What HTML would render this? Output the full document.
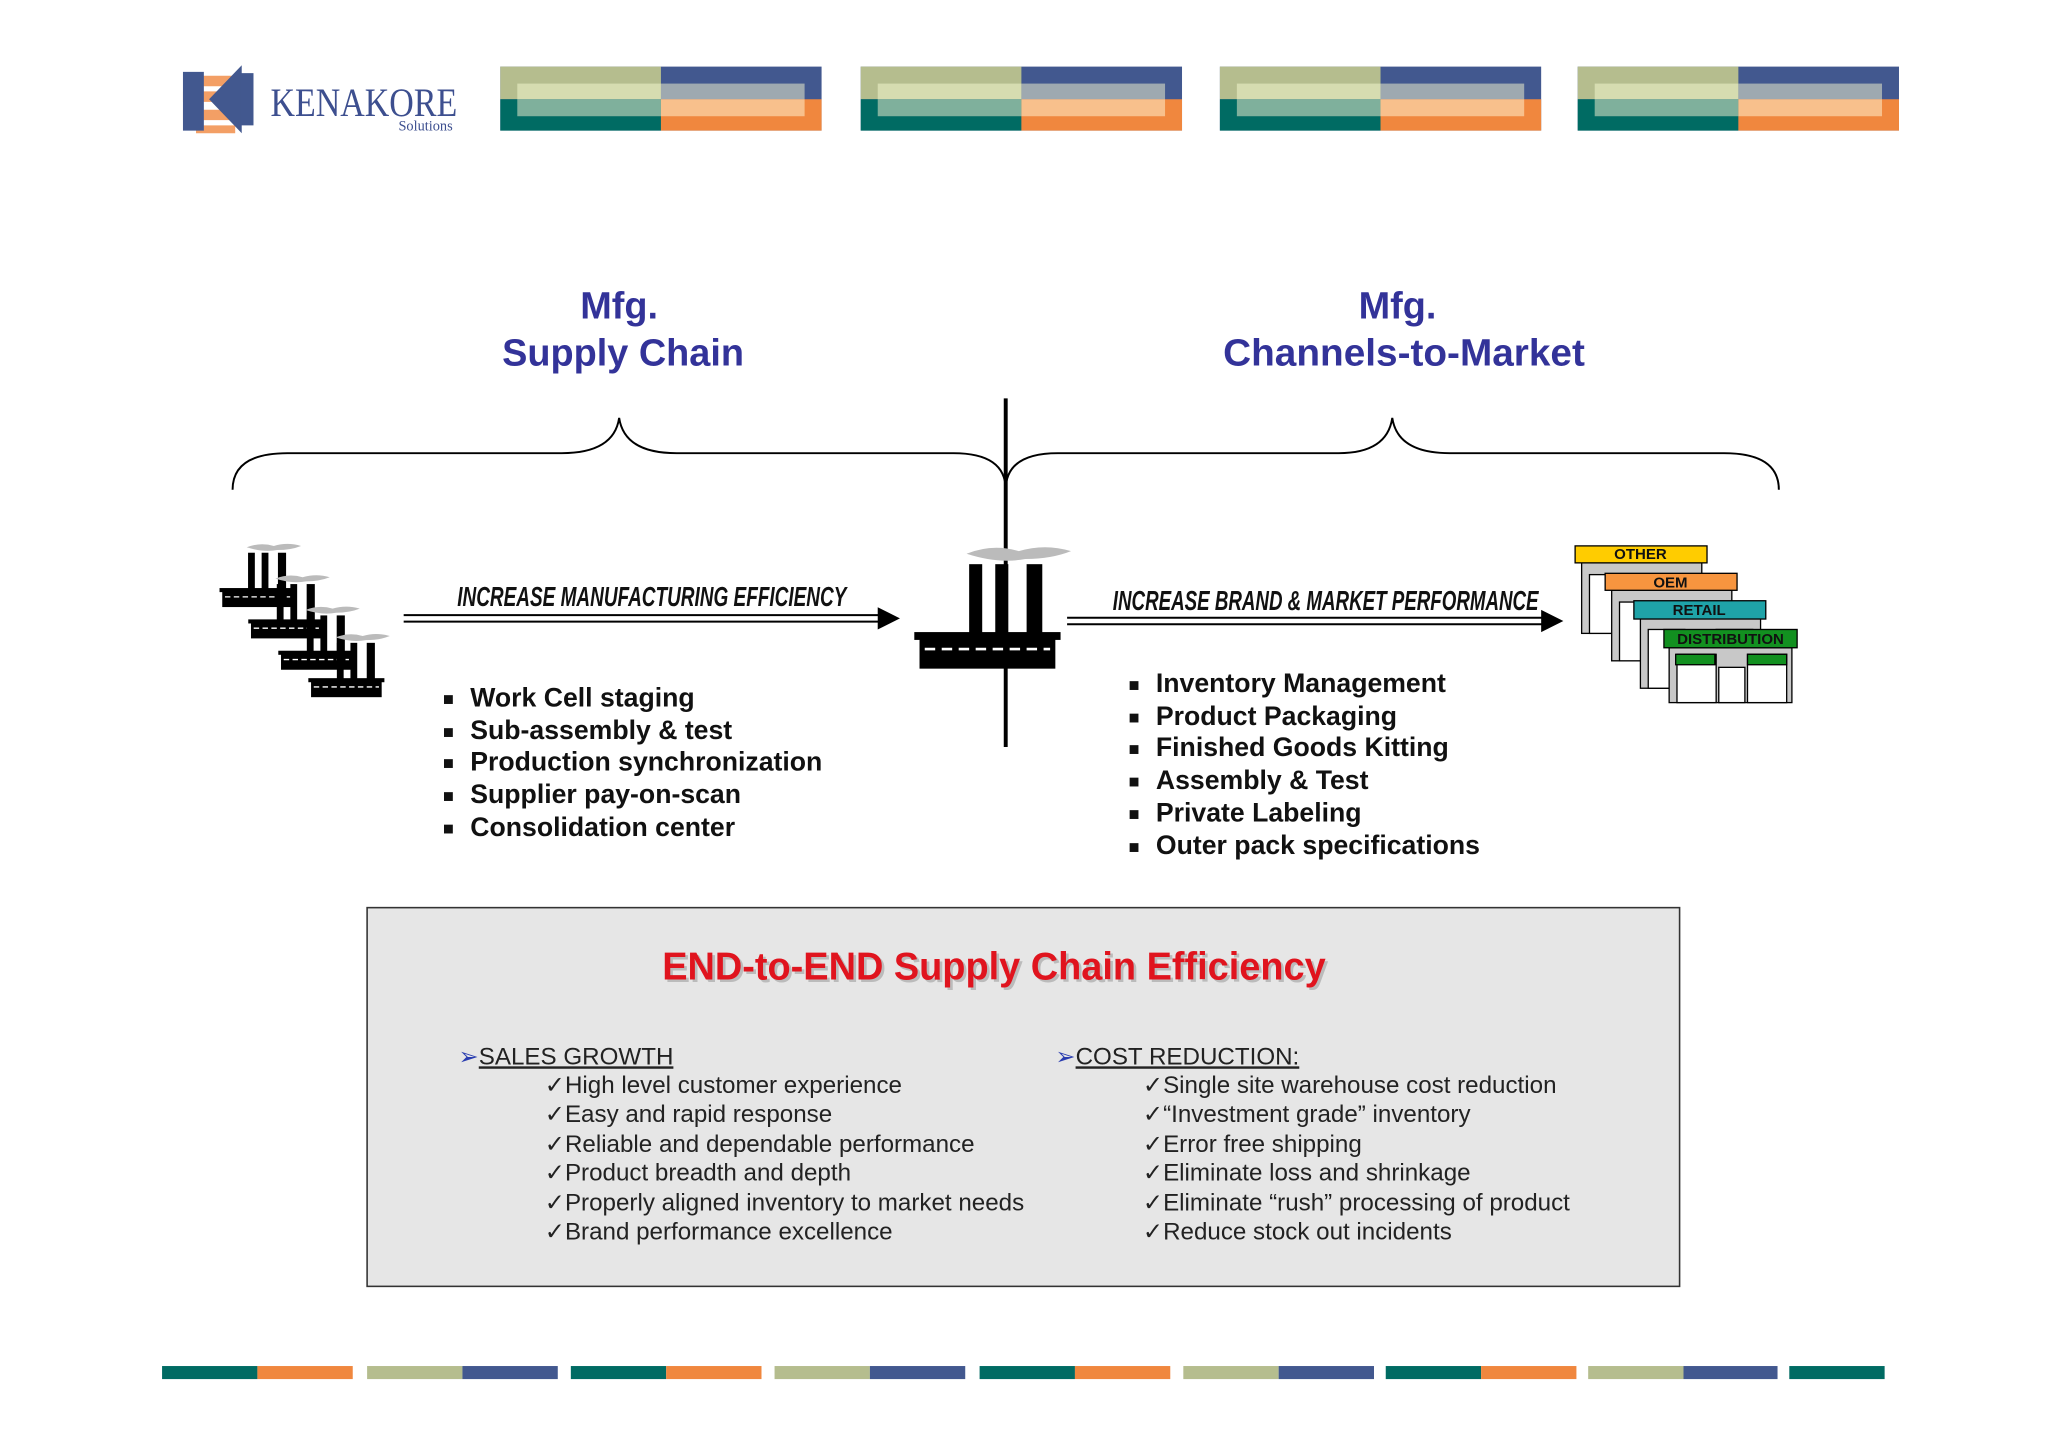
<!DOCTYPE html>
<html><head><meta charset="utf-8"><style>
html,body{margin:0;padding:0;background:#fff}
svg{display:block}
</style></head><body>
<svg width="2048" height="1447" viewBox="0 0 1568 1108" xmlns="http://www.w3.org/2000/svg" font-family="'Liberation Sans', sans-serif">
<defs>
<g id="fac">
  <path d="M40,4 q20,-8 40,-2 q20,-6 40,0 q-15,6 -35,6 q-20,4 -45,-4z" fill="#bbb"/>
  <rect x="42" y="12" width="10" height="55" fill="#000"/>
  <rect x="62" y="12" width="10" height="55" fill="#000"/>
  <rect x="86" y="12" width="12" height="55" fill="#000"/>
  <rect x="0" y="64" width="112" height="6" fill="#000"/>
  <rect x="4" y="68" width="104" height="24" fill="#000"/>
  <line x1="8" y1="77" x2="104" y2="77" stroke="#fff" stroke-width="2" stroke-dasharray="8,5"/>
</g>
<g id="bank">
  <rect x="0" y="0" width="246" height="49" fill="#42588f"/>
  <rect x="0" y="0" width="123" height="25" fill="#b5bd8e"/>
  <rect x="0" y="25" width="123" height="24" fill="#006b63"/>
  <rect x="123" y="25" width="123" height="24" fill="#f0873e"/>
  <rect x="13" y="13" width="110" height="12" fill="#d6dcb0"/>
  <rect x="13" y="25" width="110" height="13" fill="#7fb09c"/>
  <rect x="123" y="13" width="110" height="12" fill="#9ea9b0"/>
  <rect x="123" y="25" width="110" height="13" fill="#f8c08c"/>
</g>
<g id="store">
  <rect x="4" y="13" width="92" height="54" fill="#c8c8c8" stroke="#000" stroke-width="1"/>
  <rect x="10" y="22" width="28" height="45" fill="#fff" stroke="#000" stroke-width="1"/>
  <rect x="62" y="22" width="28" height="45" fill="#fff" stroke="#000" stroke-width="1"/>
</g>
</defs>

<g>
  <path d="M150,58 h30 v8 h-30z M140,70 h40 v8 h-40z M140,84 h40 v8 h-40z M150,96 h30 v6 h-30z" fill="#f0873e" opacity="0.8"/>
  <path d="M140,55 h16 v45 h-16z" fill="#42588f"/>
  <path d="M185,50 L160,76 L185,102 z" fill="#42588f"/>
  <rect x="184" y="56" width="10" height="40" fill="#42588f"/>
  <text x="207" y="89" font-family="'Liberation Serif', serif" font-size="31" fill="#3d4f8f" textLength="143" lengthAdjust="spacingAndGlyphs">KENAKORE</text>
  <text x="305" y="100" font-family="'Liberation Serif', serif" font-size="11" fill="#3d4f8f">Solutions</text>
</g>
<use href="#bank" x="383" y="51"/>
<use href="#bank" x="659" y="51"/>
<use href="#bank" x="934" y="51"/>
<use href="#bank" x="1208" y="51"/>

<g font-size="29" font-weight="bold" fill="#333399" text-anchor="middle">
  <text x="474" y="244">Mfg.</text>
  <text x="477" y="280">Supply Chain</text>
  <text x="1070" y="244">Mfg.</text>
  <text x="1075" y="280" textLength="277" lengthAdjust="spacingAndGlyphs">Channels-to-Market</text>
</g>

<g fill="none" stroke="#000" stroke-width="1.5">
  <path d="M178,375 Q178,347 220,347 L430,347 Q470,347 474,320 Q478,347 518,347 L730,347 Q770,347 770,375"/>
  <path d="M770,375 Q770,347 810,347 L1025,347 Q1062,347 1066,320 Q1070,347 1110,347 L1320,347 Q1362,347 1362,375"/>
</g>
<line x1="770" y1="305" x2="770" y2="572" stroke="#000" stroke-width="3"/>

<use href="#fac" transform="translate(168,417) scale(0.52)"/>
<use href="#fac" transform="translate(190,441) scale(0.52)"/>
<use href="#fac" transform="translate(213,465) scale(0.52)"/>
<use href="#fac" transform="translate(236,486) scale(0.52)"/>
<use href="#fac" transform="translate(700,420)"/>

<g stroke="#000" stroke-width="1.5">
  <line x1="309" y1="471" x2="676" y2="471"/>
  <line x1="309" y1="476" x2="676" y2="476"/>
  <line x1="817" y1="473" x2="1184" y2="473"/>
  <line x1="817" y1="478" x2="1184" y2="478"/>
</g>
<path d="M672,465 L689,473.5 L672,482z" fill="#000"/>
<path d="M1180,467 L1197,475.5 L1180,484z" fill="#000"/>
<g font-size="21" font-style="italic" font-weight="bold" fill="#111">
  <text x="350" y="464" textLength="298" lengthAdjust="spacingAndGlyphs">INCREASE MANUFACTURING EFFICIENCY</text>
  <text x="852" y="467" textLength="326" lengthAdjust="spacingAndGlyphs">INCREASE BRAND &amp; MARKET PERFORMANCE</text>
</g>

<g font-size="11.5" font-weight="bold" text-anchor="middle" fill="#111">
  <use href="#store" x="1207" y="418"/>
  <rect x="1206" y="418" width="101" height="13" fill="#ffcc00" stroke="#000"/>
  <text x="1256" y="428">OTHER</text>
  <use href="#store" x="1230" y="439"/>
  <rect x="1229" y="439" width="101" height="13" fill="#f7953f" stroke="#000"/>
  <text x="1279" y="450">OEM</text>
  <use href="#store" x="1252" y="460"/>
  <rect x="1251" y="460" width="101" height="14" fill="#1fa3a8" stroke="#000"/>
  <text x="1301" y="471">RETAIL</text>
  <rect x="1278" y="496" width="94" height="42" fill="#c8c8c8" stroke="#000"/>
  <rect x="1284" y="501" width="30" height="37" fill="#fff" stroke="#000"/>
  <rect x="1338" y="501" width="30" height="37" fill="#fff" stroke="#000"/>
  <rect x="1283" y="501" width="30" height="8" fill="#129020" stroke="#000"/>
  <rect x="1338" y="501" width="30" height="8" fill="#129020" stroke="#000"/>
  <rect x="1316" y="511" width="20" height="27" fill="#fff" stroke="#000"/>
  <rect x="1274" y="482" width="102" height="14" fill="#129020" stroke="#000"/>
  <text x="1325" y="493">DISTRIBUTION</text>
</g>

<g font-size="14" fill="#111">
  <text x="339" y="540">■</text><text x="339" y="565">■</text><text x="339" y="589">■</text><text x="339" y="614">■</text><text x="339" y="639">■</text>
  <text x="864" y="529">■</text><text x="864" y="554">■</text><text x="864" y="578">■</text><text x="864" y="603">■</text><text x="864" y="628">■</text><text x="864" y="653">■</text>
</g>
<g font-size="20.4" font-weight="bold" fill="#111">
  <text x="360" y="541">Work Cell staging</text>
  <text x="360" y="566">Sub-assembly &amp; test</text>
  <text x="360" y="590">Production synchronization</text>
  <text x="360" y="615">Supplier pay-on-scan</text>
  <text x="360" y="640">Consolidation center</text>
  <text x="885" y="530">Inventory Management</text>
  <text x="885" y="555">Product Packaging</text>
  <text x="885" y="579">Finished Goods Kitting</text>
  <text x="885" y="604">Assembly &amp; Test</text>
  <text x="885" y="629">Private Labeling</text>
  <text x="885" y="654">Outer pack specifications</text>
</g>

<rect x="281" y="695" width="1005" height="290" fill="#e6e6e6" stroke="#333" stroke-width="1.2"/>
<text x="763" y="752" font-size="30" font-weight="bold" fill="#bbb" text-anchor="middle" textLength="508" lengthAdjust="spacingAndGlyphs">END-to-END Supply Chain Efficiency</text>
<text x="761" y="750" font-size="30" font-weight="bold" fill="#e0141e" text-anchor="middle" textLength="508" lengthAdjust="spacingAndGlyphs">END-to-END Supply Chain Efficiency</text>
<g font-size="18.5" fill="#222">
  <text x="351" y="815"><tspan fill="#2a3db0">➢</tspan><tspan text-decoration="underline">SALES GROWTH</tspan></text>
  <text x="417" y="837">✓High level customer experience</text>
  <text x="417" y="859">✓Easy and rapid response</text>
  <text x="417" y="882">✓Reliable and dependable performance</text>
  <text x="417" y="904">✓Product breadth and depth</text>
  <text x="417" y="927">✓Properly aligned inventory to market needs</text>
  <text x="417" y="949">✓Brand performance excellence</text>
  <text x="808" y="815"><tspan fill="#2a3db0">➢</tspan><tspan text-decoration="underline">COST REDUCTION:</tspan></text>
  <text x="875" y="837">✓Single site warehouse cost reduction</text>
  <text x="875" y="859">✓“Investment grade” inventory</text>
  <text x="875" y="882">✓Error free shipping</text>
  <text x="875" y="904">✓Eliminate loss and shrinkage</text>
  <text x="875" y="927">✓Eliminate “rush” processing of product</text>
  <text x="875" y="949">✓Reduce stock out incidents</text>
</g>

<g>
  <rect x="124" y="1046" width="73" height="10" fill="#006b63"/><rect x="197" y="1046" width="73" height="10" fill="#f0873e"/>
  <rect x="281" y="1046" width="73" height="10" fill="#b5bd8e"/><rect x="354" y="1046" width="73" height="10" fill="#42588f"/>
  <rect x="437" y="1046" width="73" height="10" fill="#006b63"/><rect x="510" y="1046" width="73" height="10" fill="#f0873e"/>
  <rect x="593" y="1046" width="73" height="10" fill="#b5bd8e"/><rect x="666" y="1046" width="73" height="10" fill="#42588f"/>
  <rect x="750" y="1046" width="73" height="10" fill="#006b63"/><rect x="823" y="1046" width="73" height="10" fill="#f0873e"/>
  <rect x="906" y="1046" width="73" height="10" fill="#b5bd8e"/><rect x="979" y="1046" width="73" height="10" fill="#42588f"/>
  <rect x="1061" y="1046" width="73" height="10" fill="#006b63"/><rect x="1134" y="1046" width="73" height="10" fill="#f0873e"/>
  <rect x="1216" y="1046" width="73" height="10" fill="#b5bd8e"/><rect x="1289" y="1046" width="72" height="10" fill="#42588f"/>
  <rect x="1370" y="1046" width="73" height="10" fill="#006b63"/>
</g>
</svg>
</body></html>
